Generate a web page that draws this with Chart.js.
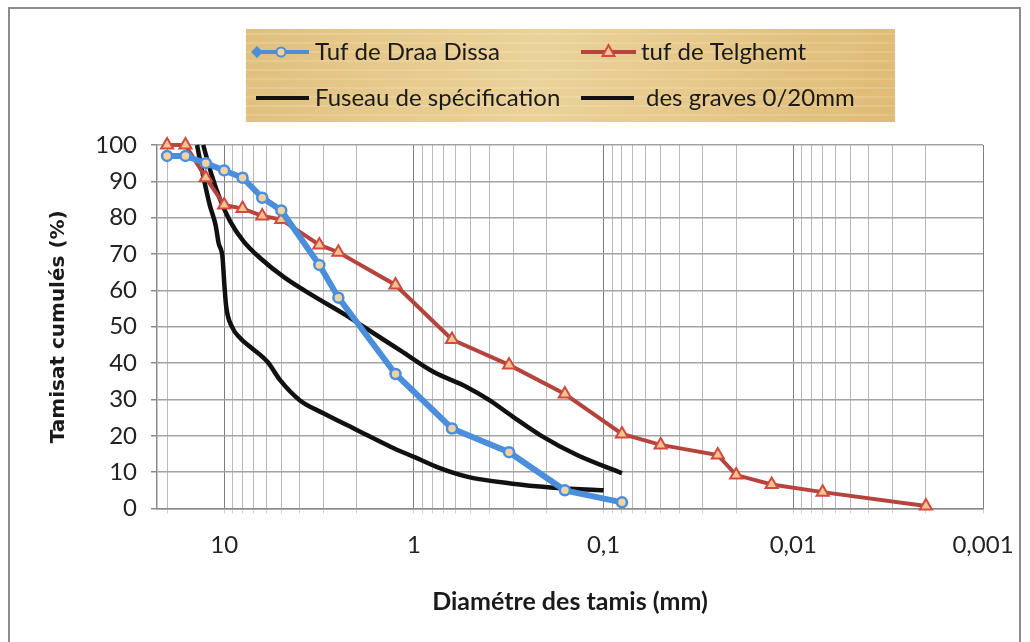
<!DOCTYPE html>
<html>
<head>
<meta charset="utf-8">
<script src="https://cdn.jsdelivr.net/npm/chart.js@4.4.1/dist/chart.umd.min.js"></script>
<style>
  html, body { margin: 0; padding: 0; background: #fff; }
  #wrap { position: relative; width: 1030px; height: 642px; overflow: hidden; }
  #frame { position: absolute; left: 8px; top: 7px; width: 1013px; height: 660px;
           border: 2px solid #8c8c8c; box-sizing: border-box; }
  #chart { position: absolute; left: 0; top: 0; }
</style>
</head>
<body>
<div id="wrap">
  <div id="frame"></div>
  <canvas id="chart" width="1030" height="642"></canvas>
</div>
<script>
// sieve sizes (mm) and cumulative passing (%)
const sievesDraa = [20, 16, 12.5, 10, 8, 6.3, 5, 3.15, 2.5, 1.25, 0.63, 0.315, 0.16, 0.08];
const passingDraa = [97, 97, 95, 93, 91, 85.5, 82, 67, 58, 37, 22, 15.5, 5, 1.7];

const sievesTelghemt = [20, 16, 12.5, 10, 8, 6.3, 5, 3.15, 2.5, 1.25, 0.63, 0.315, 0.16, 0.08,
                        0.05, 0.025, 0.02, 0.013, 0.007, 0.002];
const passingTelghemt = [100, 100, 91, 83.5, 82.5, 80.5, 79.5, 72.5, 70.5, 61.5, 46.5, 39.5, 31.5, 20.5,
                         17.5, 14.7, 9.2, 6.6, 4.5, 0.7];

// spec envelope for graves 0/20 (upper and lower curves)
const fuseauHautD = [12.9, 11.6, 10.5, 9.3, 7.9, 6.4, 4.8, 3.39, 2.25, 1.97, 1.18, 0.79, 0.53, 0.4, 0.3, 0.216, 0.138, 0.08];
const fuseauHautP = [100, 91.5, 85, 79, 73.5, 68.7, 63.5, 58.5, 53, 51, 43.5, 37.6, 33.5, 29.8, 25.2, 20.2, 14.7, 9.7];

const fuseauBasD = [13.9, 13.4, 12.6, 11.9, 11.1, 10.7, 10.2, 9.96, 9.75, 9.1, 8.2, 7.3, 5.9, 5.07, 4.0, 3.0,
                    2.0, 1.33, 1.0, 0.73, 0.52, 0.31, 0.19, 0.1];
const fuseauBasP = [100, 95.7, 89, 83.4, 78, 73, 69, 61, 55.4, 50, 46.8, 44.5, 40.3, 35.3, 29.8, 26.2,
                    21.6, 17, 14.2, 11.1, 8.7, 6.9, 5.8, 5];

const xLabelValues = [10, 1, 0.1, 0.01, 0.001];
const xLabels = ['10', '1', '0,1', '0,01', '0,001'];
const yMin = 0, yMax = 100, yStep = 10;

function pts(xs, ys) {
  return xs.map((x, i) => ({ x: x, y: ys[i] }));
}

function isMajor(v) {
  return xLabelValues.some(m => Math.abs(v - m) < m * 1e-6);
}

// minor + major log grid values
const xGrid = [];
for (let e = -3; e <= 1; e++) {
  for (let k = 1; k <= 9; k++) {
    const v = Number((k * Math.pow(10, e)).toPrecision(6));
    if (v <= 22.6) xGrid.push(v);
  }
}

const legendBox = {
  id: 'legendBox',
  afterDraw(chart, args, opts) {
    const ctx = chart.ctx;
    ctx.save();
    const g = ctx.createLinearGradient(opts.x, opts.y, opts.x + opts.w, opts.y + opts.h);
    g.addColorStop(0, '#e1c07e');
    g.addColorStop(0.45, '#ebd29a');
    g.addColorStop(1, '#dfbb76');
    ctx.fillStyle = g;
    ctx.fillRect(opts.x, opts.y, opts.w, opts.h);
    ctx.strokeStyle = 'rgba(255,246,220,0.35)';
    ctx.lineWidth = 1;
    for (let yy = opts.y + 5; yy < opts.y + opts.h; yy += 9) {
      ctx.beginPath();
      ctx.moveTo(opts.x, yy);
      ctx.lineTo(opts.x + opts.w, yy);
      ctx.stroke();
    }

    opts.items.forEach((it, i) => {
      const ds = chart.data.datasets[i];
      ctx.strokeStyle = ds.borderColor;
      ctx.lineWidth = 4;
      ctx.beginPath();
      ctx.moveTo(it.x1, it.y);
      ctx.lineTo(it.x2, it.y);
      ctx.stroke();
      const mx = (it.x1 + it.x2) / 2;
      if (ds.pointStyle === 'circle') {
        ctx.fillStyle = ds.borderColor;
        ctx.beginPath();
        ctx.moveTo(it.x1 - 2, it.y);
        ctx.lineTo(it.x1 + 4, it.y - 6);
        ctx.lineTo(it.x1 + 10, it.y);
        ctx.lineTo(it.x1 + 4, it.y + 6);
        ctx.closePath();
        ctx.fill();
        ctx.fillStyle = ds.pointBackgroundColor;
        ctx.lineWidth = 2;
        ctx.beginPath();
        ctx.arc(mx, it.y, 4.5, 0, Math.PI * 2);
        ctx.fill();
        ctx.stroke();
      } else if (ds.pointStyle === 'triangle') {
        ctx.fillStyle = ds.pointBackgroundColor;
        ctx.strokeStyle = ds.pointBorderColor;
        ctx.lineWidth = 2;
        ctx.beginPath();
        ctx.moveTo(mx, it.y - 7);
        ctx.lineTo(mx + 6, it.y + 4);
        ctx.lineTo(mx - 6, it.y + 4);
        ctx.closePath();
        ctx.fill();
        ctx.stroke();
      }
      ctx.fillStyle = '#1a1a1a';
      ctx.font = opts.font;
      ctx.textBaseline = 'middle';
      ctx.textAlign = 'left';
      ctx.fillText(ds.label, it.tx, it.y);
    });
    ctx.restore();
  }
};

const ctx = document.getElementById('chart');
new Chart(ctx, {
  type: 'line',
  data: {
    datasets: [{
      label: 'Tuf de Draa Dissa',
      data: pts(sievesDraa, passingDraa),
      borderColor: '#4a8edc',
      borderWidth: 6,
      pointStyle: 'circle',
      pointRadius: 5,
      pointBorderWidth: 2.5,
      pointBackgroundColor: '#efd3a4',
      pointBorderColor: '#4a8edc',
      tension: 0,
      clip: false
    }, {
      label: 'tuf de Telghemt',
      data: pts(sievesTelghemt, passingTelghemt),
      borderColor: '#b4443d',
      borderWidth: 4,
      pointStyle: 'triangle',
      pointRadius: 7,
      pointBorderWidth: 2,
      pointBackgroundColor: '#f7c48f',
      pointBorderColor: '#d04a40',
      tension: 0,
      clip: false
    }, {
      label: 'Fuseau de spécification',
      data: pts(fuseauHautD, fuseauHautP),
      borderColor: '#111111',
      borderWidth: 4.5,
      pointRadius: 0,
      cubicInterpolationMode: 'monotone',
      clip: false
    }, {
      label: 'des graves 0/20mm',
      data: pts(fuseauBasD, fuseauBasP),
      borderColor: '#111111',
      borderWidth: 4.5,
      pointRadius: 0,
      cubicInterpolationMode: 'monotone',
      clip: false
    }]
  },
  options: {
    responsive: false,
    animation: false,
    layout: { padding: { left: 0, top: 145, right: 47, bottom: 0 } },
    plugins: {
      legend: { display: false },
      tooltip: { enabled: false },
      legendBox: {
        x: 246, y: 29, w: 649, h: 93,
        font: '24px Lato',
        items: [
          { x1: 253, x2: 309, y: 52, tx: 315 },
          { x1: 581, x2: 636, y: 52, tx: 641 },
          { x1: 256, x2: 309, y: 98, tx: 315 },
          { x1: 581, x2: 634, y: 98, tx: 646 }
        ]
      }
    },
    scales: {
      x: {
        type: 'logarithmic',
        reverse: true,
        min: 0.001,
        max: 22.6,
        afterBuildTicks: (scale) => { scale.ticks = xGrid.map(v => ({ value: v })); },
        afterFit: (scale) => { scale.height = 133.5; },
        ticks: {
          autoSkip: false,
          maxRotation: 0,
          padding: 17,
          color: '#222',
          font: { family: 'Lato', size: 24 },
          callback: (v) => {
            const i = xLabelValues.findIndex(m => Math.abs(v - m) < m * 1e-6);
            return i >= 0 ? xLabels[i] : '';
          }
        },
        grid: {
          color: (c) => (c.tick && isMajor(c.tick.value)) ? '#7d7d7d' : '#b9b9b9',
          lineWidth: 1,
          tickLength: 5,
          tickColor: '#d0d0d0'
        },
        border: { color: '#8a8a8a', width: 1.5 },
        title: {
          display: true,
          text: 'Diamétre des tamis (mm)',
          color: '#1a1a1a',
          font: { family: 'Lato', size: 25, weight: 'bold' },
          padding: { top: 0, bottom: 25 }
        }
      },
      y: {
        min: yMin,
        max: yMax,
        afterFit: (scale) => { scale.width = 157; },
        ticks: {
          stepSize: yStep,
          padding: 14,
          color: '#222',
          font: { family: 'Lato', size: 24 }
        },
        grid: {
          color: '#a3a3a3',
          lineWidth: 1.5,
          tickLength: 6,
          tickColor: '#8a8a8a'
        },
        border: { color: '#8a8a8a', width: 1.5 },
        title: {
          display: true,
          text: 'Tamisat cumulés (%)',
          color: '#1a1a1a',
          font: { family: 'DejaVu Sans', size: 20, weight: 'bold' },
          padding: { top: 47, bottom: 0 }
        }
      }
    }
  },
  plugins: [legendBox]
});
</script>
</body>
</html>
